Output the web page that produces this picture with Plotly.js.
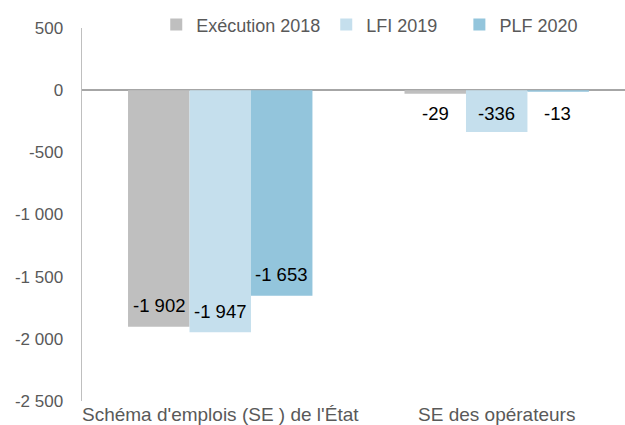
<!DOCTYPE html>
<html><head><meta charset="utf-8">
<script src="https://cdn.plot.ly/plotly-3.0.1.min.js"></script>
<style>html,body{margin:0;padding:0;background:#fff}</style>
</head><body><div id="chart" style="width:625px;height:425px"></div>
<script>
const categories = ["Schéma d'emplois (SE ) de l'État", "SE des opérateurs"];
const seriesNames = ["Exécution 2018", "LFI 2019", "PLF 2020"];
const execution2018 = [-1902, -29];
const lfi2019 = [-1947, -336];
const plf2020 = [-1653, -13];
const yTickVals = [500, 0, -500, -1000, -1500, -2000, -2500];
const yTickText = ["500", "0", "-500", "-1 000", "-1 500", "-2 000", "-2 500"];

const colors = ["#BFBFBF", "#C5DFED", "#93C5DC"];
const allSeries = [execution2018, lfi2019, plf2020];
const legendIds = ["legend", "legend2", "legend3"];
const legendX = [0.25, 0.522, 0.735];

function fmt(v) {
  const s = Math.abs(v).toString().replace(/\B(?=(\d{3})+(?!\d))/g, " ");
  return (v < 0 ? "-" : "") + s;
}

const FONT = "Liberation Sans, Arial, sans-serif";

const traces = allSeries.map((vals, i) => ({
  type: "bar", name: seriesNames[i], x: categories, y: vals,
  marker: {color: colors[i]}, hoverinfo: "none", legend: legendIds[i]
}));

const annotations = [];
allSeries.forEach((vals, i) => {
  vals.forEach((v, j) => {
    annotations.push({
      x: categories[j], y: v < -500 ? v + 170 : -185,
      xref: "x", yref: "y", text: fmt(v), showarrow: false,
      xshift: (i - 1) * 61,
      font: {family: FONT, size: 18.5, color: "#000"}
    });
  });
});

const layout = {
  width: 625, height: 425,
  margin: {l: 82, r: 0, t: 28, b: 24, autoexpand: false},
  paper_bgcolor: "#fff", plot_bgcolor: "#fff",
  barmode: "group", bargap: 0.333, bargroupgap: 0,
  font: {family: FONT, size: 17, color: "#595959"},
  showlegend: true,
  xaxis: {range: [-0.5, 1.464], showgrid: false, zeroline: false, showline: false,
          ticks: "", tickfont: {size: 19, color: "#595959"}, fixedrange: true},
  yaxis: {range: [-2500, 500], tickvals: yTickVals, ticktext: yTickText,
          showgrid: false, zeroline: true, zerolinecolor: "#a6a6a6", zerolinewidth: 2,
          showline: true, linecolor: "#bfbfbf", linewidth: 1.5, ticks: "",
          ticklabelstandoff: 14, tickfont: {size: 17, color: "#595959"}},
  annotations: annotations
};
legendIds.forEach((id, i) => {
  layout[id] = {orientation: "h", xref: "container", yref: "container",
    x: legendX[i], xanchor: "left", y: 0.985, yanchor: "top",
    font: {family: FONT, size: 18, color: "#595959"}, itemwidth: 30,
    bgcolor: "rgba(0,0,0,0)", borderwidth: 0};
});

Plotly.newPlot("chart", traces, layout, {displayModeBar: false, staticPlot: true});
</script></body></html>
